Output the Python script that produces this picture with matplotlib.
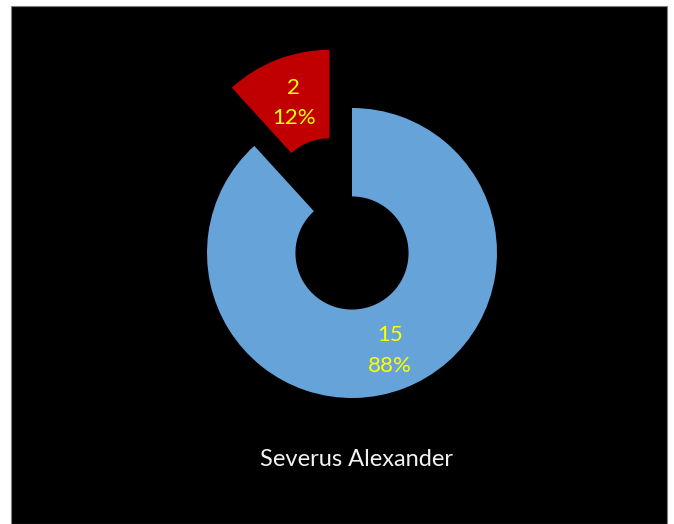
import numpy as np
import matplotlib.pyplot as plt
from matplotlib.patches import Rectangle

plt.rcParams['font.family'] = ['Lato', 'DejaVu Sans']

# data
names = ['Other', 'Rebel']
counts = [15, 2]
colors = ['#66A3D9', '#C00000']
title = 'Severus Alexander'

fig = plt.figure(figsize=(6.74, 5.24), dpi=100)
fig.patch.set_facecolor('white')

# black chart area, drawn under the axes
bg = Rectangle((11 / 674, 0), 656 / 674, 518 / 524, transform=fig.transFigure,
               facecolor='black', edgecolor='#808080', linewidth=0.8, zorder=-10)
fig.patches.append(bg)

# donut centre at (352, 253) px, radius 145 px
half = 200
ax = fig.add_axes([(352 - half) / 674, (524 - 253 - half) / 524,
                   2 * half / 674, 2 * half / 524])
ax.set_facecolor('none')
ax.axis('off')

total = sum(counts)


def fmt(c):
    return f'{c}\n{c / total * 100:.0f}%'


wedges = ax.pie(counts, colors=colors, startangle=90, counterclock=False,
                explode=[0, 0.43], radius=1.0,
                wedgeprops=dict(width=0.61, linewidth=0))[0]

# labels in the middle of each ring segment
for w, c, r in zip(wedges, counts, [0.72, 0.68]):
    ang = np.deg2rad((w.theta1 + w.theta2) / 2)
    cx, cy = w.center
    ax.text(cx + r * np.cos(ang), cy + r * np.sin(ang), fmt(c),
            ha='center', va='center', color='#FFFF00', fontsize=16,
            linespacing=1.65)

lim = half / 145
ax.set_xlim(-lim, lim)
ax.set_ylim(-lim, lim)

fig.text(356 / 674, 1 - 460 / 524, title, ha='center', va='center',
         color='#F2F2F2', fontsize=17)

fig.savefig('out.png', dpi=100, facecolor=fig.get_facecolor())
